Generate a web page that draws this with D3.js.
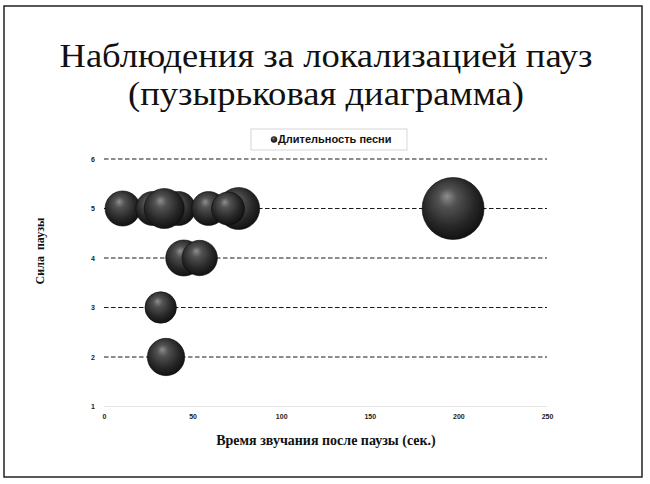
<!DOCTYPE html>
<html>
<head>
<meta charset="utf-8">
<script src="https://cdn.jsdelivr.net/npm/d3@7"></script>
<style>
  body { margin: 0; background: #fff; }
  svg { display: block; }
</style>
</head>
<body>
<div id="chart"></div>
<script>
// bubble data (drawing order = back to front)
var timeAfterPause = [10.5, 27.5, 42, 34, 59, 76, 70, 45, 54, 32, 35, 197];
var pauseStrength  = [5, 5, 5, 5, 5, 5, 5, 4, 4, 3, 2, 5];
var songDuration   = [77, 72, 72, 100, 72, 110, 68, 81, 78, 62, 87, 240];

var xTicks = [0, 50, 100, 150, 200, 250];
var yTicks = [1, 2, 3, 4, 5, 6];
var gridValues = [2, 3, 4, 5, 6];

var titleLines = ["Наблюдения за локализацией пауз", "(пузырьковая диаграмма)"];
var seriesName = "Длительность песни";
var xTitle = "Время звучания после паузы (сек.)";
var yTitle = "Сила  паузы";

var W = 650, H = 484;
var margin = {top: 159, left: 104};
var width = 443;
var height = 247.5;

var svg = d3.select("#chart")
    .append("svg")
    .attr("width", W)
    .attr("height", H);

// sphere shading
var defs = svg.append("defs");
var grad = defs.append("radialGradient")
    .attr("id", "ball")
    .attr("cx", "0.45").attr("cy", "0.42").attr("r", "0.6")
    .attr("fx", "0.4").attr("fy", "0.3");
grad.append("stop").attr("offset", "0%").attr("stop-color", "#8e8e8e");
grad.append("stop").attr("offset", "25%").attr("stop-color", "#525252");
grad.append("stop").attr("offset", "70%").attr("stop-color", "#262626");
grad.append("stop").attr("offset", "100%").attr("stop-color", "#101010");

// slide frame
svg.append("rect")
    .attr("x", 4).attr("y", 6)
    .attr("width", 638).attr("height", 471)
    .attr("fill", "none")
    .attr("stroke", "#222")
    .attr("stroke-width", 1.5);

// title (two lines, widths taken from the slide)
var titleWidths = [533, 396];
svg.selectAll("text.title")
    .data(titleLines)
    .enter()
    .append("text")
    .attr("class", "title")
    .attr("x", 326)
    .attr("y", function(d, i) { return 66.5 + i * 38; })
    .attr("text-anchor", "middle")
    .attr("textLength", function(d, i) { return titleWidths[i]; })
    .attr("lengthAdjust", "spacingAndGlyphs")
    .style("font-family", "'Liberation Serif', 'Times New Roman', serif")
    .style("font-size", "34px")
    .attr("fill", "#111")
    .text(function(d) { return d; });

var x = d3.scaleLinear().domain([0, 250]).range([0, width]);
var y = d3.scaleLinear().domain([1, 6]).range([height, 0]);
var r = d3.scaleSqrt().domain([0, 240]).range([0, 31]);

var g = svg.append("g")
    .attr("transform", "translate(" + margin.left + "," + margin.top + ")");

// gridlines
g.selectAll("line.grid")
    .data(gridValues)
    .enter()
    .append("line")
    .attr("class", "grid")
    .attr("x1", 0).attr("x2", width)
    .attr("y1", function(d) { return y(d); })
    .attr("y2", function(d) { return y(d); })
    .attr("stroke", "#1a1a1a")
    .attr("stroke-width", 1.2)
    .attr("stroke-dasharray", "4.5,2.5");

g.append("line")
    .attr("x1", 0).attr("x2", width)
    .attr("y1", y(1)).attr("y2", y(1))
    .attr("stroke", "#e4e4e4")
    .attr("stroke-width", 1);

// axes (labels only)
var xAxis = d3.axisBottom(x).tickValues(xTicks).tickSize(0).tickPadding(8);
var yAxis = d3.axisLeft(y).tickValues(yTicks).tickSize(0).tickPadding(9)
    .tickFormat(d3.format("d"));

g.append("g")
    .attr("class", "x axis")
    .attr("transform", "translate(0," + height + ")")
    .call(xAxis);

g.append("g")
    .attr("class", "y axis")
    .call(yAxis);

g.selectAll(".axis .domain").remove();
g.selectAll(".axis text")
    .style("font-family", "'Liberation Sans', Arial, sans-serif")
    .style("font-size", "7px")
    .style("font-weight", "bold")
    .attr("fill", "#222");

// bubbles
var idx = d3.range(timeAfterPause.length);
g.selectAll("circle.bubble")
    .data(idx)
    .enter()
    .append("circle")
    .attr("class", "bubble")
    .attr("cx", function(i) { return x(timeAfterPause[i]); })
    .attr("cy", function(i) { return y(pauseStrength[i]); })
    .attr("r", function(i) { return r(songDuration[i]); })
    .attr("fill", "url(#ball)")
    .attr("stroke", "#0a0a0a")
    .attr("stroke-width", 0.6);

// axis titles
svg.append("text")
    .attr("x", 326)
    .attr("y", 445)
    .attr("text-anchor", "middle")
    .style("font-family", "'Liberation Serif', 'Times New Roman', serif")
    .style("font-size", "14px")
    .style("font-weight", "bold")
    .attr("fill", "#111")
    .text(xTitle);

svg.append("text")
    .attr("transform", "translate(44,251) rotate(-90)")
    .attr("text-anchor", "middle")
    .style("font-family", "'Liberation Serif', 'Times New Roman', serif")
    .style("font-size", "12px")
    .style("font-weight", "bold")
    .style("white-space", "pre")
    .attr("fill", "#111")
    .text(yTitle);

// legend
var legend = svg.append("g").attr("transform", "translate(251,129)");
legend.append("rect")
    .attr("width", 156).attr("height", 21)
    .attr("fill", "#fff")
    .attr("stroke", "#ccc")
    .attr("stroke-width", 0.8);
legend.append("circle")
    .attr("cx", 23).attr("cy", 10.5).attr("r", 3)
    .attr("fill", "url(#ball)")
    .attr("stroke", "#111")
    .attr("stroke-width", 0.5);
legend.append("text")
    .attr("x", 27).attr("y", 14)
    .style("font-family", "'Liberation Sans', Arial, sans-serif")
    .style("font-size", "11px")
    .style("font-weight", "bold")
    .attr("fill", "#111")
    .text(seriesName);
</script>
</body>
</html>
